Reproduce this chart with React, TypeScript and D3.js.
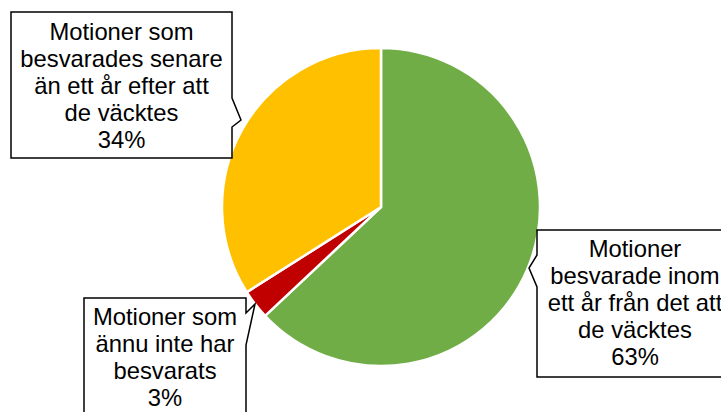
import { useEffect, useRef } from "react";
import * as d3 from "d3";

const categories = [
  "Motioner besvarade inom ett år från det att de väcktes",
  "Motioner som ännu inte har besvarats",
  "Motioner som besvarades senare än ett år efter att de väcktes",
];
const values = [63, 3, 34];
const colors = ["#70AD47", "#C00000", "#FFC000"];

// label text split into lines like the original callouts
const labelLines = [
  ["Motioner", "besvarade inom", "ett år från det att", "de väcktes", "63%"],
  ["Motioner som", "ännu inte har", "besvarats", "3%"],
  ["Motioner som", "besvarades senare", "än ett år efter att", "de väcktes", "34%"],
];

const App = () => {
  const svgRef = useRef<SVGSVGElement | null>(null);
  const width = 721;
  const height = 412;

  useEffect(() => {
    const svg = d3.select(svgRef.current);
    svg.selectAll("*").remove();

    const cx = 381;
    const cy = 207;
    const radius = 159;

    const pie = d3
      .pie<number>()
      .sort(null)
      .value((d) => d);
    const arc = d3.arc<d3.PieArcDatum<number>>().innerRadius(0).outerRadius(radius);

    const g = svg.append("g").attr("transform", `translate(${cx},${cy})`);
    g.selectAll("path")
      .data(pie(values))
      .join("path")
      .attr("d", arc)
      .attr("fill", (_, i) => colors[i])
      .attr("stroke", "#fff")
      .attr("stroke-width", 2.5)
      .attr("stroke-linejoin", "miter")
      .append("title")
      .text((_, i) => categories[i]);

    // callout boxes (wedge rect with a tail pointing at the slice)
    const callouts = [
      {
        path: "M537,230 H740 V377 H537 V287 L529,268 L537,255 Z",
        cx: 635,
        base: 257,
      },
      {
        path: "M84,298 H246 V313 L255,304 L246,345 V420 H84 Z",
        cx: 165,
        base: 325,
      },
      {
        path: "M11,12 H232 V98 L241,120 L232,127 V158 H11 Z",
        cx: 121.5,
        base: 40,
      },
    ];

    callouts.forEach((c, i) => {
      const grp = svg.append("g");
      grp
        .append("path")
        .attr("d", c.path)
        .attr("fill", "#fff")
        .attr("stroke", "#000")
        .attr("stroke-width", 1.5)
        .attr("stroke-linejoin", "miter");
      grp
        .selectAll("text")
        .data(labelLines[i])
        .join("text")
        .attr("x", c.cx)
        .attr("y", (_, j) => c.base + j * 27)
        .attr("text-anchor", "middle")
        .style("font-family", "'Liberation Sans', Arial, sans-serif")
        .style("font-size", "23.8px")
        .style("fill", "#000")
        .text((d) => d);
    });
  }, []);

  return (
    <svg
      ref={svgRef}
      width={width}
      height={height}
      style={{ position: "absolute", left: 0, top: 0, backgroundColor: "#ffffff" }}
    />
  );
};

export default App;
